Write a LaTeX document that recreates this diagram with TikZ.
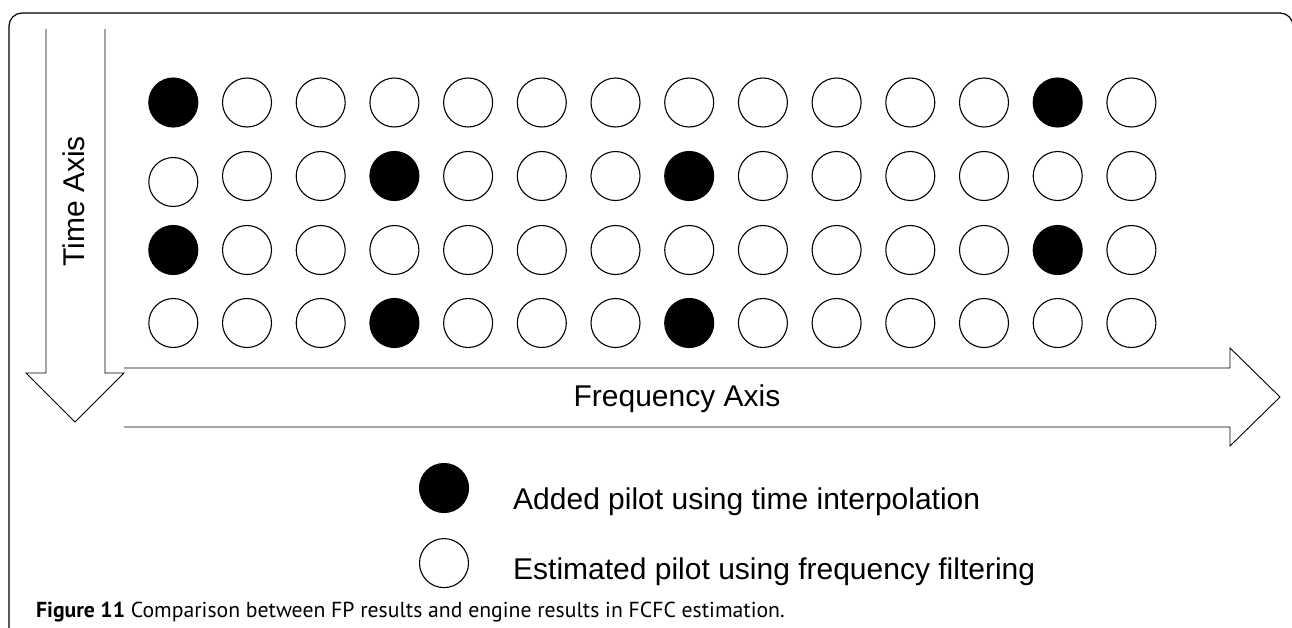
\documentclass[tikz,border=0pt]{standalone}
\usepackage{fontspec}
\setmainfont{Liberation Sans}
\newfontfamily\capfont{PT Sans}
\usetikzlibrary{positioning}

\begin{document}
\begin{tikzpicture}[
    x=1pt, y=-1pt,
    pilot/.style={circle, draw, line width=1.1pt, minimum size=49pt, inner sep=0pt},
    added/.style={pilot, fill=black},
    bigarrow/.style={draw, line width=0.9pt, line join=miter},
    axislabel/.style={font=\fontsize{30}{36}\selectfont, inner sep=0pt},
    caption/.style={font=\capfont\fontsize{21.7}{26}\selectfont, inner sep=0pt}
]
    \useasboundingbox (0,0) rectangle (1292,627);
    \draw [line width=1.2pt, rounded corners=13pt] (9,640) |- (1293,13) -- (1293,640);

    \foreach \r/\y/\a/\b in {1/102.5/1/13, 2/176/4/8, 3/250/1/13, 4/323/4/8}
        \foreach \c in {1,...,14} {
            \ifnum\c=\a \def\kind{added}\else\ifnum\c=\b \def\kind{added}\else\def\kind{pilot}\fi\fi
            \pgfmathsetmacro\yy{\y+6*(\r==2)*(\c==1)}
            \node [\kind] (p\r-\c) at ({173.3+(\c-1)*73.7},\yy) {};
        }

    \draw [bigarrow] (46,29) -- (46,373) -- (26,373) -- (75,422) -- (124,373) -- (105,373) -- (105,29);
    \draw [bigarrow] (124,368) -- (1230,368) -- (1230,348) -- (1280,397) -- (1230,446) -- (1230,427) -- (124,427);

    \node [axislabel, rotate=90] (timelbl) at (73.5,201.5) {Time Axis};
    \node [axislabel, anchor=base] (freqlbl) at (677,406.7) {Frequency Axis};

    \node [added] (lgadd) at (444,488) {};
    \node [pilot, below=25pt of lgadd] (lgest) {};
    \node [axislabel, anchor=base west] (addtxt) at (513,509) {Added pilot using time interpolation};
    \node [axislabel, anchor=base west] (esttxt) at (513,579) {Estimated pilot using frequency filtering};

    \node [caption, anchor=base west] (cap) at (36,617) {\textbf{Figure 11} Comparison between FP results and engine results in FCFC estimation.};
\end{tikzpicture}
\end{document}
